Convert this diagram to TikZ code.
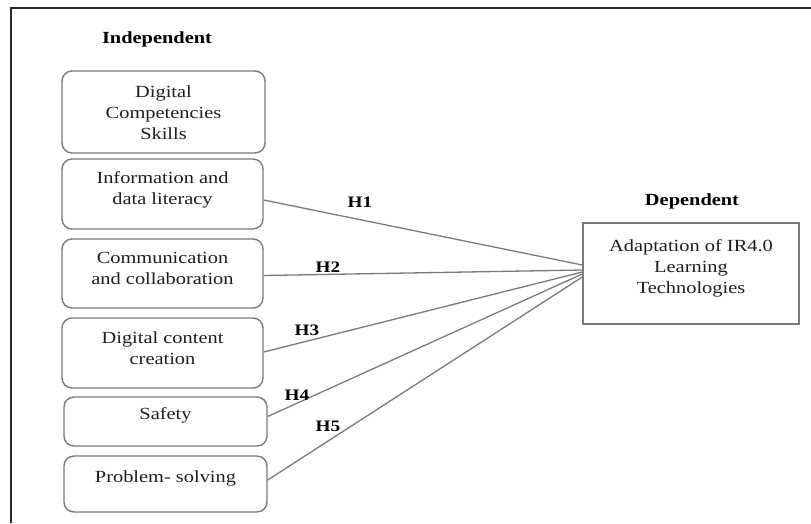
\documentclass[tikz,border=0pt]{standalone}
\usepackage{fontspec}
\setmainfont{Liberation Serif}[FakeStretch=1.2]
\begin{document}
\begin{tikzpicture}[x=1pt,y=-1pt,
  box/.style={draw=boxgray,line width=1.4pt,rounded corners=10pt,inner sep=0pt},
  dbox/.style={draw=boxgray,line width=1.4pt,inner sep=0pt},
  txt/.style={align=center,font=\fontsize{17}{21}\selectfont,text=textgray,inner sep=0pt},
  head/.style={font=\fontsize{17}{21}\selectfont\bfseries,text=black,inner sep=0pt},
  hyp/.style={font=\fontsize{16}{20}\selectfont\bfseries,text=black,inner sep=0pt},
  conn/.style={draw=boxgray,line width=1.3pt}]
\definecolor{boxgray}{HTML}{7A7A7A}
\definecolor{textgray}{HTML}{1E1E1E}
\useasboundingbox (0,0) rectangle (811,523);
% frame
\coordinate (ftl) at (11,8);
\coordinate (ftr) at (811,8);
\coordinate (fbl) at (11,523);
\draw[line width=2pt,draw=black!85] (ftr) -- (ftl) -- (fbl);
% headings
\node[head] (hind) at (157,39) {Independent};
\node[head] (hdep) at (692,201) {Dependent};
% independent boxes
\node[box,minimum width=203pt,minimum height=82pt] (b1) at (163.5,112) {};
\node[box,minimum width=201pt,minimum height=70pt] (b2) at (162.5,194) {};
\node[box,minimum width=201pt,minimum height=69pt] (b3) at (162.5,273.5) {};
\node[box,minimum width=201pt,minimum height=70pt] (b4) at (162.5,353) {};
\node[box,minimum width=203pt,minimum height=49pt] (b5) at (165.5,421.5) {};
\node[box,minimum width=203pt,minimum height=56pt] (b6) at (165.5,484) {};
\node[txt] (t1) at ([yshift=-1pt]b1.center) {Digital\\Competencies\\Skills};
\node[txt] (t2) at ([yshift=4pt]b2.center) {Information and\\data literacy};
\node[txt] (t3) at ([yshift=5pt]b3.center) {Communication\\and collaboration};
\node[txt] (t4) at ([yshift=4.5pt]b4.center) {Digital content\\creation};
\node[txt] (t5) at ([yshift=6pt]b5.center) {Safety};
\node[txt] (t6) at ([yshift=6pt]b6.center) {Problem- solving};
% dependent box
\node[dbox,minimum width=216pt,minimum height=101pt] (dep) at (691,273.5) {};
\node[txt] (tdep) at ([yshift=5pt]dep.center) {Adaptation of IR4.0\\Learning\\Technologies};
% connector end points
\coordinate (e1) at ([yshift=8.5pt]dep.west);
\coordinate (e2) at ([yshift=3.5pt]dep.west);
\coordinate (e3) at ([yshift=1.5pt]dep.west);
\coordinate (e4) at ([yshift=-0.5pt]dep.west);
\coordinate (e5) at ([yshift=-3.5pt]dep.west);
\draw[conn] ([yshift=-6pt]b2.east) -- (e1);
\draw[conn] ([yshift=-2pt]b3.east) -- (e2);
\draw[conn] ([yshift=1pt]b4.east) -- (e3);
\draw[conn] ([yshift=5pt]b5.east) -- (e4);
\draw[conn] ([yshift=4pt]b6.east) -- (e5);
% hypothesis labels
\node[hyp] (h1) at (360,202) {H1};
\node[hyp] (h2) at (328,267) {H2};
\node[hyp] (h3) at (307,330) {H3};
\node[hyp] (h4) at (297,395) {H4};
\node[hyp] (h5) at (328,426) {H5};
\end{tikzpicture}
\end{document}
